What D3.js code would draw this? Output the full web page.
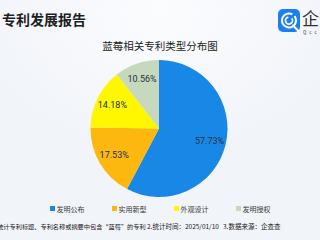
<!DOCTYPE html>
<html>
<head>
<meta charset="utf-8">
<script src="https://cdn.jsdelivr.net/npm/d3@7"></script>
<style>
  html, body { margin: 0; padding: 0; }
  body { width: 320px; height: 240px; overflow: hidden; }
  svg { display: block; font-family: "Noto Sans CJK SC", "Noto Sans", sans-serif; }
</style>
</head>
<body>
<svg id="chart" width="320" height="240"></svg>
<script>
// Patent type shares for blueberry-related patents
const categories = ["发明公布", "实用新型", "外观设计", "发明授权"];
const shares = [57.73, 17.53, 14.18, 10.56];
const colors = ["#1987E5", "#FDB80F", "#FFF700", "#C6D9BC"];

const headerText = "专利发展报告";
const chartTitle = "蓝莓相关专利类型分布图";
const notes = [
  "1.统计专利标题、专利名称或摘要中包含“蓝莓”的专利",
  "2.统计时间：2025/01/10",
  "3.数据来源：企查查"
];

const svg = d3.select("#chart");
const W = 320, H = 240;

// background: pale blue-grey with a soft bright patch at the top
const defs = svg.append("defs");
const bg = defs.append("radialGradient").attr("id", "bgGlow")
  .attr("cx", "0.5").attr("cy", "0.05").attr("r", "0.6");
bg.append("stop").attr("offset", "0").attr("stop-color", "#FBFCFE");
bg.append("stop").attr("offset", "1").attr("stop-color", "#F1F4F9");
svg.append("rect").attr("width", W).attr("height", H).attr("fill", "url(#bgGlow)");

// page header
svg.append("text").attr("x", 2).attr("y", 25)
  .attr("font-size", 14).attr("font-weight", 700).attr("fill", "#1F1F1F")
  .text(headerText);

// brand mark in the top-right corner
const logo = svg.append("g").attr("transform", "translate(278,9)");
logo.append("rect").attr("width", 22).attr("height", 23).attr("rx", 5).attr("fill", "#1A7FF0");
const ring = d3.arc();
logo.append("path").attr("transform", "translate(11,11.5)")
  .attr("d", ring({innerRadius: 6, outerRadius: 8, startAngle: 0.9, endAngle: 2 * Math.PI + 0.5}))
  .attr("fill", "#fff");
logo.append("path").attr("transform", "translate(11,11.5)")
  .attr("d", ring({innerRadius: 2.6, outerRadius: 4.4, startAngle: 0.9, endAngle: 2 * Math.PI - 0.2}))
  .attr("fill", "#fff");
logo.append("path").attr("d", "M15,16.5 L20,21.5").attr("stroke", "#fff").attr("stroke-width", 2).attr("stroke-linecap", "round");
svg.append("text").attr("x", 302).attr("y", 25).attr("font-size", 17).attr("fill", "#333").text("企查查");
svg.append("text").attr("x", 303).attr("y", 33.5).attr("font-size", 4.5).attr("letter-spacing", 3).attr("fill", "#333").text("Qcc.com");

// chart title
svg.append("text").attr("x", 160).attr("y", 50).attr("text-anchor", "middle")
  .attr("font-size", 10.5).attr("fill", "#222")
  .text(chartTitle);

// pie
const cx = 159, cy = 128.5, r = 68.5;
const data = categories.map((c, i) => ({ name: c, value: shares[i], color: colors[i] }));
const pie = d3.pie().sort(null).value(d => d.value);
const arc = d3.arc().innerRadius(0).outerRadius(r);
const labelArc = d3.arc().innerRadius(r * 0.76).outerRadius(r * 0.76);
const arcs = pie(data);

const g = svg.append("g").attr("transform", `translate(${cx},${cy})`);
g.selectAll("path.slice").data(arcs).join("path")
  .attr("class", "slice")
  .attr("d", arc)
  .attr("fill", d => d.data.color);

g.selectAll("text.pct").data(arcs).join("text")
  .attr("class", "pct")
  .attr("transform", d => `translate(${labelArc.centroid(d)})`)
  .attr("text-anchor", "middle").attr("dy", "0.35em")
  .attr("font-family", "Roboto, 'Noto Sans', sans-serif")
  .attr("font-size", 9).attr("fill", "#23304A")
  .text(d => d.data.value.toFixed(2) + "%");

// legend
const legendX = d3.scalePoint().domain(categories).range([50, 236]);
const lg = svg.selectAll("g.legend").data(data).join("g")
  .attr("class", "legend")
  .attr("transform", d => `translate(${legendX(d.name)},209)`);
lg.append("rect").attr("x", 0).attr("y", -3).attr("width", 5).attr("height", 5).attr("fill", d => d.color);
lg.append("text").attr("x", 6.5).attr("y", 2.5).attr("font-size", 7).attr("fill", "#3A3A3A").text(d => d.name);

// footnote, three numbered notes on one line
const noteX = [-8, 147, 223];
const noteSize = [6.2, 6.5, 6.5];
svg.append("g").selectAll("text").data(notes).join("text")
  .attr("x", (d, i) => noteX[i]).attr("y", 228.5)
  .attr("font-size", (d, i) => noteSize[i]).attr("fill", "#222")
  .text(d => d);
</script>
</body>
</html>
